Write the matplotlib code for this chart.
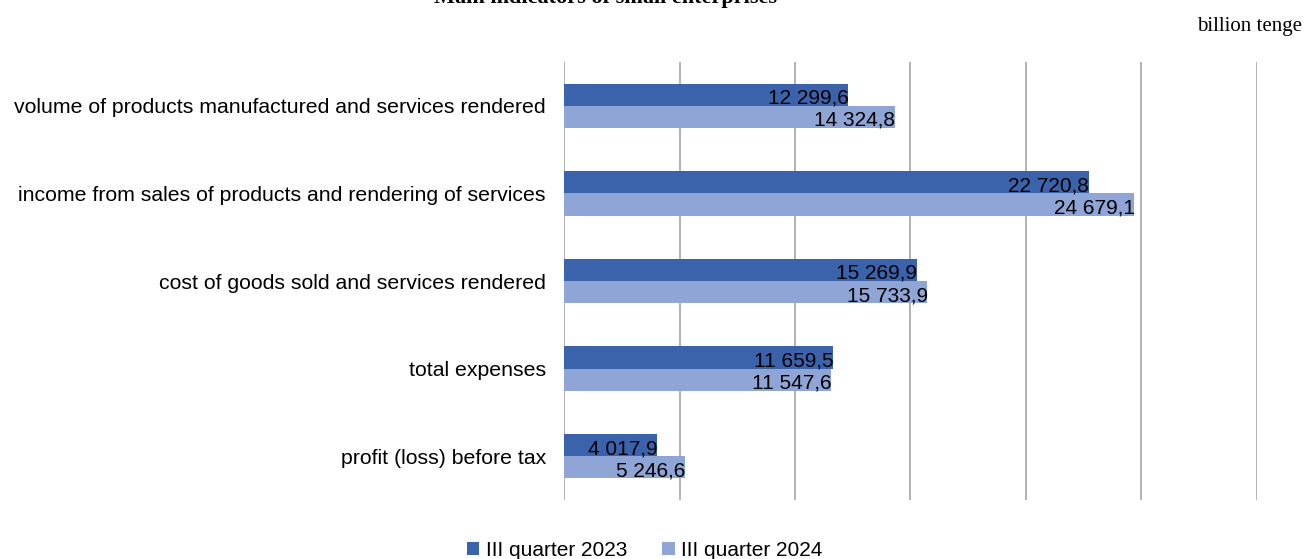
import numpy as np
import matplotlib.pyplot as plt

categories = [
    "volume of products manufactured and services rendered",
    "income from sales of products and rendering of services",
    "cost of goods sold and services rendered",
    "total expenses",
    "profit (loss) before tax",
]
q3_2023 = [12299.6, 22720.8, 15269.9, 11659.5, 4017.9]
q3_2024 = [14324.8, 24679.1, 15733.9, 11547.6, 5246.6]
series_names = ["III quarter 2023", "III quarter 2024"]


def fmt(v):
    s = f"{v:,.1f}".replace(",", " ").replace(".", ",")
    return s


fig = plt.figure(figsize=(13.05, 5.59), dpi=100)
ax = fig.add_axes([0.4322, 0.1055, 0.5310, 0.7835])

y = np.arange(len(categories))
h = 0.253
c1, c2 = "#3A63AC", "#8FA5D6"
b1 = ax.barh(y - h / 2, q3_2023, height=h, color=c1, label=series_names[0], zorder=2)
b2 = ax.barh(y + h / 2, q3_2024, height=h, color=c2, label=series_names[1], zorder=2)

for bars, vals in ((b1, q3_2023), (b2, q3_2024)):
    for bar, v in zip(bars, vals):
        ax.text(v + 20, bar.get_y() + bar.get_height() / 2 + 0.04, fmt(v),
                ha="right", va="center", fontsize=15, family="Liberation Sans", zorder=3)

ax.set_xlim(0, 30000)
ax.set_ylim(len(categories) - 0.5, -0.5)
ax.set_xticks(np.arange(0, 30001, 5000))
ax.set_xticklabels([])
ax.tick_params(axis="x", length=0)
ax.tick_params(axis="y", length=0, pad=13)
ax.set_yticks(y)
ax.set_yticklabels(categories, fontsize=15.3, family="Liberation Sans")
ax.grid(axis="x", color="#A6A6A6", linewidth=1.2, zorder=0)
for s in ax.spines.values():
    s.set_visible(False)

fig.text(0.464, 0.994, "Main indicators of small enterprises", ha="center", va="baseline",
         fontsize=16, fontweight="bold", family="Liberation Serif")
fig.text(0.998, 0.952, "billion tenge", ha="right", va="center", fontsize=15,
         family="Liberation Serif")

fig.legend(handles=[b1, b2], labels=series_names, loc="center", bbox_to_anchor=(0.494, 0.016),
           ncol=2, frameon=False, prop={"family": "Liberation Sans", "size": 15},
           handlelength=0.6, handleheight=0.6, handletextpad=0.3, columnspacing=1.7)

fig.savefig("out.png", dpi=100)
